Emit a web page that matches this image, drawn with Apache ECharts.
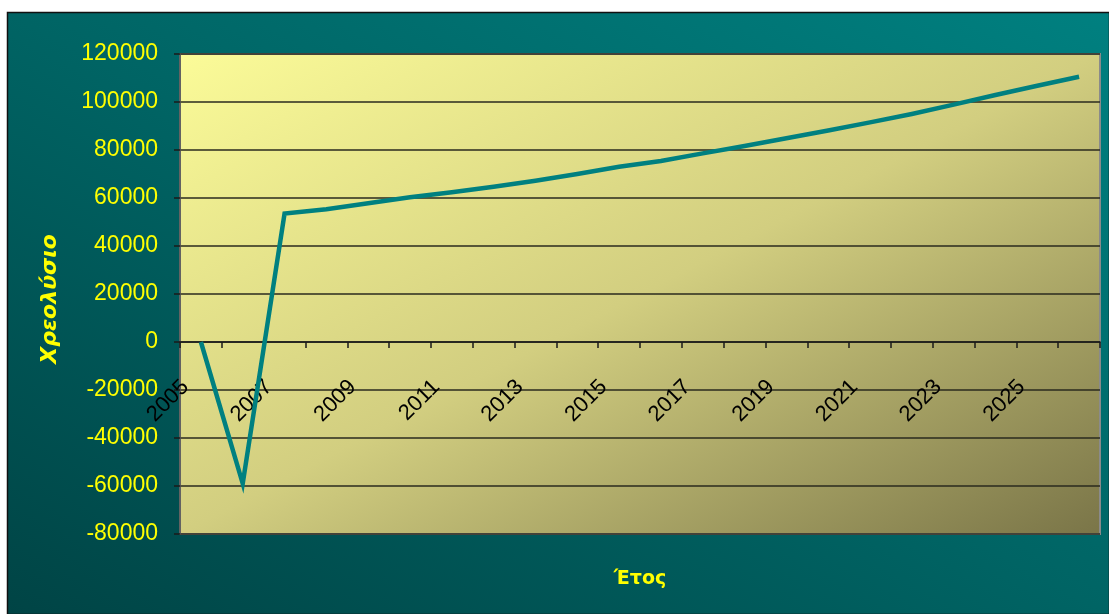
<!DOCTYPE html>
<html>
<head>
<meta charset="utf-8">
<script src="https://cdn.jsdelivr.net/npm/echarts@6/dist/echarts.min.js"></script>
<style>
  html, body { margin: 0; padding: 0; background: #ffffff; }
  #chart { width: 1109px; height: 614px; }
</style>
</head>
<body>
<div id="chart"></div>
<script>
// Years on the horizontal axis
const years = ['2005','2006','2007','2008','2009','2010','2011','2012','2013','2014','2015',
               '2016','2017','2018','2019','2020','2021','2022','2023','2024','2025','2026'];
// Amortisation per year
const amortisation = [0, -59000, 53500, 55300, 57800, 60300, 62400, 64700, 67200, 70000, 73000,
                      75400, 78600, 81700, 84900, 88100, 91500, 95000, 98900, 102900, 106800, 110500];
// Value axis range
const yMin = -80000, yMax = 120000, yStep = 20000;

const yAxisTitle = 'Χρεολύσιο';
const xAxisTitle = 'Έτος';

const G = { left: 180, top: 54, right: 9, bottom: 80 };
const W = 1109, H = 614;
const PW = W - G.left - G.right, PH = H - G.top - G.bottom;
const font = '"Liberation Sans", Arial, sans-serif';
const titleFont = '"DejaVu Sans", Verdana, sans-serif';

// the category axis sits on the zero line of the value axis
const zeroOffset = -(PH * (0 - yMin) / (yMax - yMin));

const chart = echarts.init(document.getElementById('chart'), null, { renderer: 'canvas' });

// diagonal gradients whose iso-lines run corner to corner
function cornerGradient(x, y, w, h, stops) {
  const t = (2 * w * h) / (w * w + h * h);
  return new echarts.graphic.LinearGradient(x, y, x + t * h, y + t * w, stops, true);
}
function antiCornerGradient(x, y, w, h, stops) {
  // from bottom-left to top-right
  const t = (2 * w * h) / (w * w + h * h);
  return new echarts.graphic.LinearGradient(x, y + h, x + t * h, y + h - t * w, stops, true);
}

chart.setOption({
  animation: false,
  backgroundColor: '#ffffff',
  grid: { left: G.left, top: G.top, right: G.right, bottom: G.bottom, containLabel: false },
  graphic: [
    {
      type: 'rect', z: -20,
      shape: { x: 7.5, y: 12.5, width: W - 7, height: H - 12 },
      style: {
        fill: antiCornerGradient(7, 12, W - 7, H - 12, [
          { offset: 0, color: '#004445' },
          { offset: 0.5, color: '#006464' },
          { offset: 1, color: '#008080' }
        ]),
        stroke: '#111', lineWidth: 1.5
      }
    },
    {
      type: 'rect', z: -19,
      shape: { x: G.left, y: G.top, width: PW, height: PH },
      style: {
        fill: cornerGradient(G.left, G.top, PW, PH, [
          { offset: 0, color: '#fbfb98' },
          { offset: 0.5, color: '#d2ce80' },
          { offset: 1, color: '#7a7548' }
        ]),
        stroke: '#8a8a8a', lineWidth: 2
      }
    },
    {
      type: 'text', z: 10,
      x: 50, y: 299, rotation: Math.PI / 2,
      style: {
        text: yAxisTitle, fill: '#ffff00',
        font: 'italic bold 22px ' + titleFont,
        textAlign: 'center', textVerticalAlign: 'middle'
      }
    },
    {
      type: 'text', z: 10,
      x: 640, y: 579,
      style: {
        text: xAxisTitle, fill: '#ffff00',
        font: 'bold 19px ' + titleFont,
        textAlign: 'center', textVerticalAlign: 'middle'
      }
    }
  ],
  xAxis: {
    type: 'category',
    data: years,
    boundaryGap: true,
    offset: zeroOffset,
    axisLine: { onZero: false, lineStyle: { color: '#1a1a1a', width: 1.5 } },
    axisTick: { show: true, interval: 0, length: 6, inside: false, lineStyle: { color: '#1a1a1a', width: 1.5 } },
    axisLabel: {
      interval: 1, rotate: 45, margin: 26,
      color: '#000000', fontSize: 22, fontFamily: font,
      padding: [0, 22, 0, 0]
    },
    splitLine: { show: false }
  },
  yAxis: {
    type: 'value',
    min: yMin, max: yMax, interval: yStep,
    axisLine: { show: true, lineStyle: { color: '#555', width: 1.5 } },
    axisTick: { show: true, length: 6, lineStyle: { color: '#1a1a1a', width: 1.5 } },
    axisLabel: {
      color: '#ffff00', fontSize: 23, fontFamily: font, margin: 22,
      formatter: v => String(v)
    },
    splitLine: { show: true, lineStyle: { color: '#2a2a1e', width: 1.5 } }
  },
  series: [{
    type: 'line',
    data: amortisation,
    symbol: 'none',
    lineStyle: { color: '#008080', width: 4.5, join: 'miter' },
    z: 5
  }]
});
</script>
</body>
</html>
